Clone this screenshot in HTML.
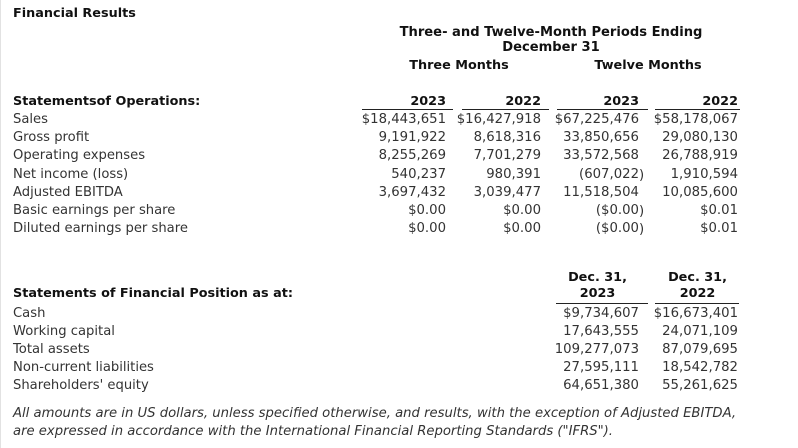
<!DOCTYPE html>
<html>
<head>
<meta charset="utf-8">
<style>
  html, body { margin:0; padding:0; }
  body { width:798px; height:448px; background:#fff; position:relative; overflow:hidden;
         font-family:"DejaVu Sans","Liberation Sans",sans-serif; font-size:13.15px; color:#333; }
  .edge { position:absolute; left:0; top:0; width:1px; height:448px; background:#e2e2e2; }
  .t { position:absolute; line-height:18px; height:18px; white-space:nowrap; }
  .b { font-weight:bold; color:#111; font-size:12.8px; }
  .n { font-size:13.25px; }
  .c { text-align:center; }
  .r { text-align:right; }
  .ul { position:absolute; height:1px; background:#222; }
  .hang { position:relative; }
  .hang i { font-style:normal; position:absolute; left:100%; top:0; }
  .it { font-style:italic; font-size:13.2px; }
</style>
</head>
<body>
<div class="edge"></div>

<!-- Title -->
<div class="t b" style="left:13px; top:5px;">Financial Results</div>

<!-- Header -->
<div class="t b c" style="left:351px; width:400px; top:24px; font-size:13.1px;">Three- and Twelve-Month Periods Ending</div>
<div class="t b c" style="left:351px; width:400px; top:39px; font-size:13.1px;">December 31</div>
<div class="t b c" style="left:359px; width:200px; top:57px;">Three Months</div>
<div class="t b c" style="left:548px; width:200px; top:57px;">Twelve Months</div>

<!-- Section 1 header row -->
<div class="t b" style="left:13px; top:93px;">Statementsof Operations:</div>
<div class="t b r" style="right:352px; top:93px;">2023</div>
<div class="t b r" style="right:257px; top:93px;">2022</div>
<div class="t b r" style="right:159px; top:93px;">2023</div>
<div class="t b r" style="right:60px; top:93px;">2022</div>
<div class="ul" style="left:362px; width:91px; top:109px;"></div>
<div class="ul" style="left:462px; width:87px; top:109px;"></div>
<div class="ul" style="left:557px; width:91px; top:109px;"></div>
<div class="ul" style="left:655px; width:85px; top:109px;"></div>

<!-- Section 1 rows -->
<div class="t" style="left:13px; top:111px;">Sales</div>
<div class="t n r" style="right:352px; top:111px;">$18,443,651</div>
<div class="t n r" style="right:257px; top:111px;">$16,427,918</div>
<div class="t n r" style="right:159px; top:111px;">$67,225,476</div>
<div class="t n r" style="right:60px; top:111px;">$58,178,067</div>

<div class="t" style="left:13px; top:129px;">Gross profit</div>
<div class="t n r" style="right:352px; top:129px;">9,191,922</div>
<div class="t n r" style="right:257px; top:129px;">8,618,316</div>
<div class="t n r" style="right:159px; top:129px;">33,850,656</div>
<div class="t n r" style="right:60px; top:129px;">29,080,130</div>

<div class="t" style="left:13px; top:147px;">Operating expenses</div>
<div class="t n r" style="right:352px; top:147px;">8,255,269</div>
<div class="t n r" style="right:257px; top:147px;">7,701,279</div>
<div class="t n r" style="right:159px; top:147px;">33,572,568</div>
<div class="t n r" style="right:60px; top:147px;">26,788,919</div>

<div class="t" style="left:13px; top:166px;">Net income (loss)</div>
<div class="t n r" style="right:352px; top:166px;">540,237</div>
<div class="t n r" style="right:257px; top:166px;">980,391</div>
<div class="t n r" style="right:159px; top:166px;"><span class="hang">(607,022<i>)</i></span></div>
<div class="t n r" style="right:60px; top:166px;">1,910,594</div>

<div class="t" style="left:13px; top:184px;">Adjusted EBITDA</div>
<div class="t n r" style="right:352px; top:184px;">3,697,432</div>
<div class="t n r" style="right:257px; top:184px;">3,039,477</div>
<div class="t n r" style="right:159px; top:184px;">11,518,504</div>
<div class="t n r" style="right:60px; top:184px;">10,085,600</div>

<div class="t" style="left:13px; top:202px;">Basic earnings per share</div>
<div class="t n r" style="right:352px; top:202px;">$0.00</div>
<div class="t n r" style="right:257px; top:202px;">$0.00</div>
<div class="t n r" style="right:159px; top:202px;"><span class="hang">($0.00<i>)</i></span></div>
<div class="t n r" style="right:60px; top:202px;">$0.01</div>

<div class="t" style="left:13px; top:220px;">Diluted earnings per share</div>
<div class="t n r" style="right:352px; top:220px;">$0.00</div>
<div class="t n r" style="right:257px; top:220px;">$0.00</div>
<div class="t n r" style="right:159px; top:220px;"><span class="hang">($0.00<i>)</i></span></div>
<div class="t n r" style="right:60px; top:220px;">$0.01</div>

<!-- Section 2 header -->
<div class="t b c" style="left:547px; width:101px; top:269px;">Dec. 31,</div>
<div class="t b c" style="left:647px; width:101px; top:269px;">Dec. 31,</div>
<div class="t b" style="left:13px; top:285px;">Statements of Financial Position as at:</div>
<div class="t b c" style="left:547px; width:101px; top:285px;">2023</div>
<div class="t b c" style="left:647px; width:101px; top:285px;">2022</div>
<div class="ul" style="left:556px; width:92px; top:303px;"></div>
<div class="ul" style="left:655px; width:84px; top:303px;"></div>

<!-- Section 2 rows -->
<div class="t" style="left:13px; top:305px;">Cash</div>
<div class="t n r" style="right:159px; top:305px;">$9,734,607</div>
<div class="t n r" style="right:60px; top:305px;">$16,673,401</div>

<div class="t" style="left:13px; top:323px;">Working capital</div>
<div class="t n r" style="right:159px; top:323px;">17,643,555</div>
<div class="t n r" style="right:60px; top:323px;">24,071,109</div>

<div class="t" style="left:13px; top:341px;">Total assets</div>
<div class="t n r" style="right:159px; top:341px;">109,277,073</div>
<div class="t n r" style="right:60px; top:341px;">87,079,695</div>

<div class="t" style="left:13px; top:359px;">Non-current liabilities</div>
<div class="t n r" style="right:159px; top:359px;">27,595,111</div>
<div class="t n r" style="right:60px; top:359px;">18,542,782</div>

<div class="t" style="left:13px; top:377px;">Shareholders' equity</div>
<div class="t n r" style="right:159px; top:377px;">64,651,380</div>
<div class="t n r" style="right:60px; top:377px;">55,261,625</div>

<!-- Footnote -->
<div class="t it" style="left:13px; top:405px;">All amounts are in US dollars, unless specified otherwise, and results, with the exception of Adjusted EBITDA,</div>
<div class="t it" style="left:13px; top:423px;">are expressed in accordance with the International Financial Reporting Standards ("IFRS").</div>
</body>
</html>
